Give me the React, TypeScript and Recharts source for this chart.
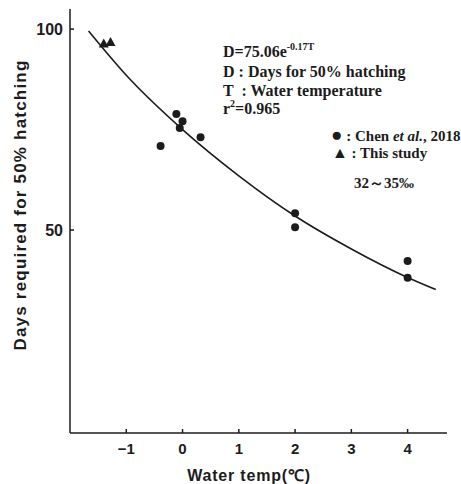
import React from 'react';
import { ComposedChart, Line, Scatter, XAxis, YAxis } from 'recharts';

const tempTicks = [-1, 0, 1, 2, 3, 4];
const dayTicks = [50, 100];

// Chen et al., 2018
const chenTemp = [-0.39, -0.11, 0, -0.05, 0.32, 2, 2, 4, 4];
const chenDays = [70.9, 78.9, 77.1, 75.4, 73.1, 54.2, 50.7, 42.3, 38.1];

// This study
const studyTemp = [-1.4, -1.28];
const studyDays = [96.4, 96.8];

// fitted curve
const fitTemp = [-1.67, -1, 0, 1, 2, 3, 4, 4.5];
const fitDays = [99.5, 88.5, 75, 63.5, 53.5, 45.3, 38.2, 35.2];

const chen = chenTemp.map((t, i) => ({ t, d: chenDays[i] }));
const study = studyTemp.map((t, i) => ({ t, d: studyDays[i] }));
const fit = fitTemp.map((t, i) => ({ t, d: fitDays[i] }));

const ink = '#1c1c1c';
const sans = '"Liberation Sans", Arial, sans-serif';
const serif = '"Liberation Serif", "Times New Roman", serif';

const XTick = (props: any) => {
  const { x, y, payload } = props;
  const v = payload.value;
  return (
    <g>
      <line x1={x} x2={x} y1={y - 10} y2={y - 14} stroke={ink} strokeWidth={1.5} />
      <text x={x} y={y} dy="0.71em" textAnchor="middle" fontFamily={sans} fontWeight="bold" fontSize={15} fill={ink}>
        {v < 0 ? `\u2212${Math.abs(v)}` : v}
      </text>
    </g>
  );
};

const YTick = (props: any) => {
  const { x, y, payload } = props;
  return (
    <g>
      <line x1={x + 7} x2={x + 11} y1={y} y2={y} stroke={ink} strokeWidth={1.5} />
      <text x={x} y={y} dy="0.36em" textAnchor="end" fontFamily={sans} fontWeight="bold" fontSize={16} fill={ink}>
        {payload.value}
      </text>
    </g>
  );
};

const Dot = (props: any) => <circle cx={props.cx} cy={props.cy} r={4} fill={ink} />;
const Tri = (props: any) => {
  const { cx, cy } = props;
  return <polygon points={`${cx},${cy - 5} ${cx - 5},${cy + 4} ${cx + 5},${cy + 4}`} fill={ink} />;
};

const line = (top: number, extra: React.CSSProperties = {}): React.CSSProperties => ({
  position: 'absolute',
  left: 223,
  top,
  fontFamily: serif,
  fontWeight: 'bold',
  fontSize: 16,
  lineHeight: '19px',
  color: ink,
  whiteSpace: 'pre',
  ...extra,
});

const sup: React.CSSProperties = { fontSize: 10, verticalAlign: 'top', lineHeight: '10px' };

export default function App() {
  return (
    <div style={{ position: 'absolute', left: 0, top: 0, width: 461, height: 484, background: '#fff' }}>
      <ComposedChart width={461} height={484} margin={{ top: 9, right: 14, bottom: 0, left: 0 }}>
        <XAxis
          type="number"
          dataKey="t"
          domain={[-2, 4.7]}
          ticks={tempTicks}
          allowDataOverflow
          height={51}
          tickSize={0}
          tickMargin={10}
          tick={<XTick />}
          stroke={ink}
          strokeWidth={1.5}
        />
        <YAxis
          type="number"
          dataKey="d"
          domain={[-0.5, 105]}
          ticks={dayTicks}
          allowDataOverflow
          width={70}
          tickSize={0}
          tickMargin={7}
          tick={<YTick />}
          stroke={ink}
          strokeWidth={1.5}
        />
        <Line data={fit} dataKey="d" type="monotone" dot={false} stroke={ink} strokeWidth={1.6} isAnimationActive={false} />
        <Scatter data={chen} dataKey="d" shape={<Dot />} isAnimationActive={false} />
        <Scatter data={study} dataKey="d" shape={<Tri />} isAnimationActive={false} />
      </ComposedChart>

      <div
        style={{
          position: 'absolute',
          left: 21,
          top: 205,
          transform: 'translate(-50%, -50%) rotate(-90deg)',
          fontFamily: sans,
          fontWeight: 'bold',
          fontSize: 17,
          letterSpacing: 1.2,
          whiteSpace: 'nowrap',
          color: ink,
        }}
      >
        Days required for 50% hatching
      </div>
      <div
        style={{
          position: 'absolute',
          left: 249,
          top: 475,
          transform: 'translate(-50%, -50%)',
          fontFamily: sans,
          fontWeight: 'bold',
          fontSize: 16,
          letterSpacing: 0.8,
          whiteSpace: 'nowrap',
          color: ink,
        }}
      >
        Water temp(℃)
      </div>

      <div style={line(42)}>
        D=75.06e<sup style={sup}>-0.17T</sup>
      </div>
      <div style={line(62)}>D : Days for 50% hatching</div>
      <div style={line(81)}>T  : Water temperature</div>
      <div style={line(99)}>
        r<sup style={sup}>2</sup>=0.965
      </div>

      <div style={line(127, { left: 331, fontSize: 15 })}>
        <span style={{ fontSize: 19, lineHeight: '15px' }}>●</span> : Chen <i>et al.</i>, 2018
      </div>
      <div style={line(143, { left: 332, fontSize: 15 })}>
        <span style={{ fontSize: 16 }}>▲</span> : This study
      </div>
      <div style={line(174, { left: 354, fontSize: 15 })}>32～35‰</div>
    </div>
  );
}
